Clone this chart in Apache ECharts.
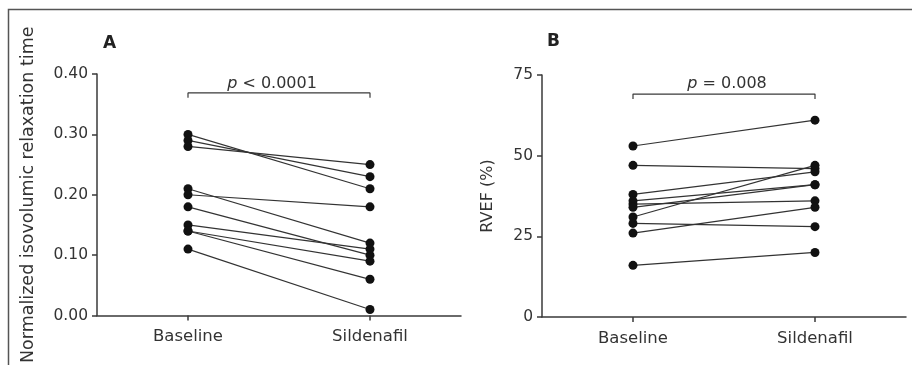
<!DOCTYPE html>
<html>
<head>
<meta charset="utf-8">
<script src="https://cdn.jsdelivr.net/npm/echarts@6/dist/echarts.min.js"></script>
<style>
  html, body { margin: 0; padding: 0; background: #fff; }
  #chart { width: 912px; height: 365px; }
</style>
</head>
<body>
<div id="chart"></div>
<script>
// categories and per-subject values
const categories = ['Baseline', 'Sildenafil'];
const ivrtBaseline   = [0.30, 0.29, 0.28, 0.21, 0.20, 0.18, 0.15, 0.14, 0.14, 0.11];
const ivrtSildenafil = [0.21, 0.23, 0.25, 0.12, 0.18, 0.10, 0.11, 0.09, 0.06, 0.01];
const rvefBaseline   = [53, 47, 38, 36, 35, 34, 31, 29, 26, 16];
const rvefSildenafil = [61, 46, 45, 41, 36, 41, 47, 28, 34, 20];
const ivrtTicks = [0, 0.1, 0.2, 0.3, 0.4];
const rvefTicks = [0, 25, 50, 75];
// bracket levels for the p-value annotations
const ivrtBracket = [0.3605, 0.3687];
const rvefBracket = [67.6, 69.1];

const FONT = 'DejaVu Sans';
const AX = '#3a3a3a';
const TXT = '#333';

const chart = echarts.init(document.getElementById('chart'));

function xAxisFor(gi) {
  return {
    type: 'category', gridIndex: gi, data: categories, boundaryGap: true,
    axisLine: { show: true, lineStyle: { color: AX, width: 1.5 } },
    axisTick: { show: true, alignWithLabel: true, length: 5, lineStyle: { color: AX, width: 1.5 } },
    axisLabel: { color: TXT, fontFamily: FONT, fontSize: 16.5, margin: 13 },
    splitLine: { show: false }
  };
}

function yAxisFor(gi, ticks, name, gap, digits, nameSize) {
  return {
    type: 'value', gridIndex: gi,
    min: ticks[0], max: ticks[ticks.length - 1], interval: ticks[1] - ticks[0],
    name: name, nameLocation: 'middle', nameGap: gap,
    nameTextStyle: { color: TXT, fontFamily: FONT, fontSize: nameSize },
    axisLine: { show: true, lineStyle: { color: AX, width: 1.5 } },
    axisTick: { show: true, length: 5, lineStyle: { color: AX, width: 1.5 } },
    axisLabel: { color: TXT, fontFamily: FONT, fontSize: 15.5, margin: 9,
      formatter: v => v.toFixed(digits) },
    splitLine: { show: false }
  };
}

function pairSeries(gi, before, after) {
  return before.map((b, i) => ({
    type: 'line', xAxisIndex: gi, yAxisIndex: gi,
    data: [b, after[i]],
    symbol: 'circle', symbolSize: 9, showAllSymbol: true,
    itemStyle: { color: '#111' },
    lineStyle: { color: '#333', width: 1.2 },
    silent: true, animation: false
  }));
}

function bracketSeries(gi, lv) {
  return {
    type: 'line', xAxisIndex: gi, yAxisIndex: gi,
    data: [[categories[0], lv[0]], [categories[0], lv[1]], [categories[1], lv[1]], [categories[1], lv[0]]],
    symbol: 'none', lineStyle: { color: AX, width: 1.2 },
    silent: true, animation: false
  };
}

const pRich = { i: { fontStyle: 'italic', fontFamily: FONT, fontSize: 16, color: TXT } };

var option = {
  backgroundColor: '#fff',
  animation: false,
  title: [
    { text: 'A', left: 98, top: 30, textStyle: { fontFamily: FONT, fontSize: 17, fontWeight: 'bold', color: '#222' } },
    { text: 'B', left: 542, top: 28, textStyle: { fontFamily: FONT, fontSize: 17, fontWeight: 'bold', color: '#222' } },
    { text: '{i|p} < 0.0001', left: 267, top: 71, textAlign: 'center',
      textStyle: { fontFamily: FONT, fontSize: 16, fontWeight: 'normal', color: TXT, rich: pRich } },
    { text: '{i|p} = 0.008', left: 722, top: 71, textAlign: 'center',
      textStyle: { fontFamily: FONT, fontSize: 16, fontWeight: 'normal', color: TXT, rich: pRich } }
  ],
  graphic: [
    { type: 'rect', silent: true, shape: { x: 8.5, y: 9.5, width: 1000, height: 1000 },
      style: { fill: 'none', stroke: '#555', lineWidth: 1.5 } }
  ],
  grid: [
    { left: 97, right: 451, top: 74, bottom: 48 },
    { left: 542, right: 6, top: 75, bottom: 48 }
  ],
  xAxis: [xAxisFor(0), xAxisFor(1)],
  yAxis: [
    yAxisFor(0, ivrtTicks, 'Normalized isovolumic relaxation time', 60, 2, 17.5),
    yAxisFor(1, rvefTicks, 'RVEF (%)', 46, 0, 16)
  ],
  series: [].concat(
    pairSeries(0, ivrtBaseline, ivrtSildenafil),
    pairSeries(1, rvefBaseline, rvefSildenafil),
    [bracketSeries(0, ivrtBracket), bracketSeries(1, rvefBracket)]
  )
};

chart.setOption(option);
</script>
</body>
</html>
